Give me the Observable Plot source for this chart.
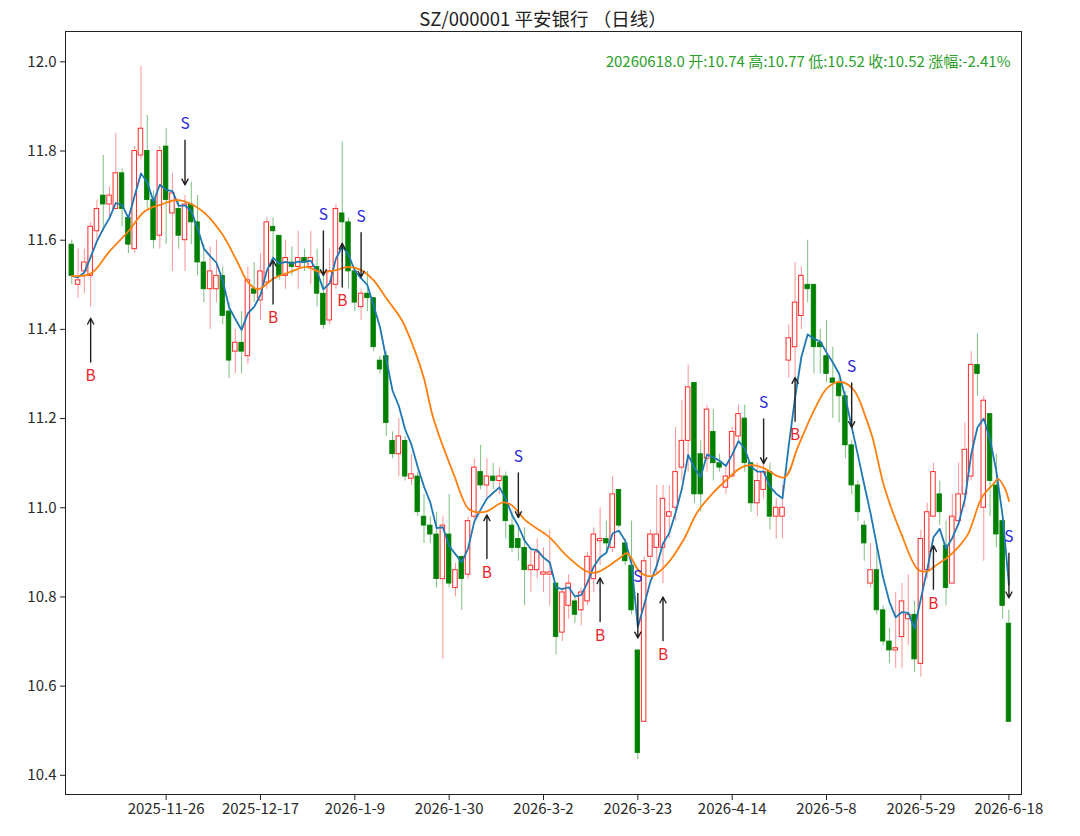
<!DOCTYPE html>
<html><head><meta charset="utf-8">
<script src="https://cdn.jsdelivr.net/npm/d3@7"></script>
<script src="https://cdn.jsdelivr.net/npm/@observablehq/plot@0.6"></script>
<style>
body{margin:0;background:#fff;font-family:"Noto Sans CJK SC","Noto Sans","DejaVu Sans",sans-serif;}
#title{height:27px;width:1080px;box-sizing:border-box;padding-left:65px;padding-right:59px;text-align:center;font-size:18.5px;line-height:36px;color:#222;white-space:nowrap;}
</style></head><body>
<div id="title"></div>
<div id="chart"></div>
<script>
const titleText = "SZ/000001 平安银行 （日线）";
const lastDateText = "20260618.0";

const tickIdx = [15, 30, 45, 60, 75, 90, 105, 120, 135, 149];
const tickLabels = ["2025-11-26","2025-12-17","2026-1-9","2026-1-30","2026-3-2","2026-3-23","2026-4-14","2026-5-8","2026-5-29","2026-6-18"];
const yTicks = [10.4, 10.6, 10.8, 11.0, 11.2, 11.4, 11.6, 11.8, 12.0];

const openP = [
11.59,11.50,11.53,11.52,11.62,11.70,11.68,11.67,11.75,11.65,
11.58,11.79,11.80,11.69,11.61,11.81,11.66,11.67,11.60,11.68,
11.64,11.55,11.49,11.49,11.52,11.44,11.35,11.37,11.34,11.49,
11.465,11.505,11.63,11.61,11.52,11.55,11.54,11.56,11.54,11.54,
11.48,11.42,11.50,11.66,11.64,11.53,11.45,11.48,11.47,11.33,
11.34,11.15,11.12,11.15,11.065,11.07,10.98,10.96,10.94,10.84,
10.94,10.82,10.89,10.85,10.98,11.08,11.05,11.07,11.06,11.07,
10.96,10.93,10.91,10.86,10.86,10.85,10.85,10.83,10.72,10.78,
10.79,10.77,10.79,10.84,10.925,10.93,10.91,11.04,10.92,10.87,
10.68,10.52,10.89,10.91,10.91,10.98,11.00,11.09,11.15,11.28,
11.12,11.11,11.17,11.10,11.045,11.07,11.16,11.20,11.10,11.01,
11.04,11.08,10.98,10.98,11.33,11.36,11.43,11.50,11.50,11.37,
11.34,11.29,11.28,11.25,11.14,11.05,10.96,10.83,10.86,10.77,
10.70,10.68,10.71,10.75,10.76,10.65,10.86,10.98,11.03,10.915,
10.83,10.97,11.03,11.07,11.32,11.00,11.21,11.05,10.97,10.74];

const highP = [
11.60,11.58,11.58,11.64,11.69,11.79,11.72,11.84,11.76,11.65,
11.81,11.99,11.88,11.71,11.81,11.85,11.75,11.69,11.70,11.73,
11.70,11.59,11.585,11.60,11.54,11.46,11.40,11.44,11.54,11.55,
11.57,11.65,11.65,11.61,11.60,11.585,11.62,11.58,11.62,11.58,
11.55,11.58,11.68,11.82,11.65,11.54,11.49,11.53,11.47,11.34,
11.35,11.17,11.20,11.16,11.12,11.08,11.03,10.98,10.99,10.98,
11.03,10.875,10.89,10.98,11.11,11.14,11.11,11.10,11.09,11.08,
10.99,10.955,10.955,10.91,10.93,10.91,10.95,10.83,10.82,10.85,
10.80,10.82,10.90,10.955,11.00,10.97,11.07,11.04,10.93,10.97,
10.68,10.89,10.95,11.05,11.05,11.05,11.18,11.24,11.32,11.28,
11.15,11.23,11.22,11.12,11.09,11.18,11.23,11.23,11.10,11.10,
11.16,11.10,11.02,11.05,11.41,11.55,11.54,11.60,11.50,11.40,
11.42,11.36,11.29,11.26,11.15,11.06,10.97,10.92,10.92,10.78,
10.73,10.81,10.83,10.85,10.79,10.95,11.01,11.10,11.06,10.97,
11.03,11.10,11.19,11.35,11.39,11.25,11.21,11.12,10.98,10.77];

const lowP = [
11.50,11.47,11.48,11.45,11.60,11.62,11.645,11.67,11.63,11.57,
11.57,11.78,11.67,11.58,11.58,11.59,11.53,11.58,11.53,11.59,
11.52,11.46,11.40,11.46,11.41,11.29,11.30,11.30,11.32,11.46,
11.42,11.49,11.56,11.51,11.49,11.52,11.49,11.53,11.50,11.45,
11.40,11.41,11.49,11.55,11.49,11.44,11.42,11.44,11.35,11.30,
11.16,11.11,11.07,11.06,11.05,10.98,10.92,10.92,10.82,10.66,
10.82,10.80,10.77,10.84,10.97,11.04,11.02,11.04,11.03,10.93,
10.90,10.88,10.78,10.81,10.84,10.81,10.78,10.67,10.70,10.75,
10.74,10.735,10.78,10.81,10.87,10.90,10.90,10.955,10.87,10.76,
10.435,10.52,10.85,10.85,10.83,10.93,10.97,11.06,11.08,11.01,
10.99,11.08,11.06,11.08,11.03,11.07,11.15,11.08,10.99,10.98,
11.02,10.95,10.93,10.93,11.29,11.29,11.40,11.46,11.30,11.30,
11.28,11.20,11.19,11.11,11.03,10.97,10.88,10.82,10.76,10.69,
10.65,10.64,10.64,10.69,10.63,10.62,10.84,10.98,10.96,10.78,
10.83,10.96,11.00,11.06,11.25,10.88,10.98,10.91,10.75,10.52];

const closeP = [
11.52,11.51,11.55,11.63,11.67,11.68,11.70,11.75,11.67,11.59,
11.80,11.85,11.69,11.60,11.80,11.69,11.705,11.61,11.68,11.64,
11.55,11.49,11.53,11.52,11.43,11.33,11.37,11.35,11.51,11.48,
11.53,11.64,11.62,11.52,11.56,11.54,11.56,11.55,11.56,11.48,
11.41,11.53,11.67,11.64,11.53,11.46,11.48,11.47,11.36,11.31,
11.19,11.12,11.16,11.07,11.075,10.99,10.96,10.94,10.84,10.96,
10.83,10.86,10.84,10.97,11.09,11.05,11.07,11.06,11.07,10.97,
10.91,10.91,10.86,10.87,10.90,10.855,10.855,10.71,10.81,10.83,
10.76,10.81,10.89,10.94,10.93,10.92,11.03,10.96,10.88,10.77,
10.45,10.88,10.94,10.94,11.02,10.99,11.08,11.15,11.27,11.03,
11.03,11.22,11.10,11.09,11.07,11.17,11.21,11.10,11.01,11.06,
11.08,10.98,11.00,11.00,11.38,11.46,11.52,11.49,11.36,11.36,
11.30,11.28,11.25,11.14,11.05,10.99,10.92,10.86,10.77,10.70,
10.68,10.685,10.79,10.76,10.66,10.93,10.99,11.08,10.99,10.82,
10.98,11.03,11.13,11.32,11.30,11.24,11.06,10.94,10.78,10.52];

// fast (blue) line: exponential moving average of the closes over this span
const fastSpan = 5;

// slow (orange) average line at these bar positions
const maIdx = [0,3,6,9,11.6,14.2,17,20.6,23.8,26.2,28,29.6,32.2,35,37.2,39.7,42,44,46,48,50,52.5,54.6,56,57.5,60.7,63.1,64.5,66,68.6,70,72.2,76,78.7,81.9,83.5,85,87.2,88.3,90.4,92.3,94.6,97.3,99.4,102,104.2,106.4,108,110,113.3,115.4,118,120.2,122.3,124.4,126.3,127.3,129.2,131.9,134.5,135.9,137.7,139.3,140.9,142.5,144.7,146.5,147.3,148.4,149];
const maVal = [11.52,11.525,11.575,11.62,11.665,11.68,11.69,11.667,11.616,11.555,11.506,11.49,11.515,11.53,11.54,11.528,11.533,11.54,11.533,11.51,11.47,11.42,11.35,11.29,11.2,11.076,10.997,10.99,10.992,11.012,11.005,10.971,10.933,10.892,10.857,10.855,10.866,10.888,10.898,10.855,10.847,10.873,10.929,10.989,11.034,11.064,11.09,11.096,11.089,11.068,11.135,11.218,11.27,11.282,11.263,11.2,11.158,11.046,10.941,10.862,10.857,10.874,10.889,10.911,10.941,11.023,11.053,11.064,11.042,11.015];

// buy / sell signals: bar index, type, arrow tip price
const sigIdx = [3,18,32,40,43,46,66,71,84,90,94,110,115,124,137,149];
const sigType = ["B","S","B","S","B","S","B","S","B","S","B","S","B","S","B","S"];
const sigTip = [11.425,11.724,11.555,11.521,11.593,11.517,10.984,10.978,10.843,10.708,10.80,11.099,11.292,11.18,10.915,10.798];

const RED = "#ff2a2a", GREEN = "#008000";

const candles = openP.map((o, i) => ({i, open: o, high: highP[i], low: lowP[i], close: closeP[i]}));
const up = d => d.close >= d.open;
const dn = d => d.close < d.open;
const maPts = maIdx.map((x, k) => ({x, y: maVal[k]}));
const signals = sigIdx.map((i, k) => ({i, type: sigType[k], tip: sigTip[k]}));

// map function used by Plot.mapY for the fast line
const emaMap = vals => {
  const a = 2 / (fastSpan + 1);
  const out = [];
  let e;
  for (const v of vals) { e = e === undefined ? v : e + a * (v - e); out.push(e); }
  return out;
};

const last = candles[candles.length - 1], prev = candles[candles.length - 2];
const pct = ((last.close - prev.close) / prev.close * 100).toFixed(2);
const infoText = `${lastDateText} 开:${last.open.toFixed(2)} 高:${last.high.toFixed(2)} 低:${last.low.toFixed(2)} 收:${last.close.toFixed(2)} 涨幅:${pct}%`;

document.getElementById("title").textContent = titleText;

const chart = Plot.plot({
  width: 1080, height: 809,
  marginTop: 4, marginBottom: 42, marginLeft: 65, marginRight: 59,
  style: {fontFamily: '"Noto Sans CJK SC","Noto Sans",sans-serif', fontSize: "15px", color: "#2a2a2a", background: "white"},
  x: {type: "linear", domain: [-1, 151], axis: null},
  y: {domain: [10.357, 12.068], axis: null},
  marks: [
    Plot.axisY({ticks: yTicks, tickFormat: d => d.toFixed(1), tickSize: 5, tickPadding: 4, fontSize: 15, label: null, stroke: "#222"}),
    Plot.axisX({ticks: tickIdx, tickFormat: d => tickLabels[tickIdx.indexOf(d)], tickSize: 6, tickPadding: 3, fontSize: 15, label: null, stroke: "#222"}),
    Plot.ruleX(candles, {filter: up, x: "i", y1: "low", y2: "high", stroke: RED, strokeOpacity: 0.5, strokeWidth: 1}),
    Plot.ruleX(candles, {filter: dn, x: "i", y1: "low", y2: "high", stroke: GREEN, strokeOpacity: 0.5, strokeWidth: 1}),
    Plot.rect(candles, {filter: up, x1: d => d.i - 0.36, x2: d => d.i + 0.36, y1: "open", y2: "close", fill: "white", stroke: RED, strokeWidth: 1}),
    Plot.rect(candles, {filter: dn, x1: d => d.i - 0.36, x2: d => d.i + 0.36, y1: "open", y2: "close", fill: GREEN, stroke: GREEN, strokeWidth: 0.8}),
    Plot.lineY(candles, Plot.mapY(emaMap, {x: "i", y: "close", stroke: "#1f77b4", strokeWidth: 1.8})),
    Plot.line(maPts, {x: "x", y: "y", stroke: "#ff7f0e", strokeWidth: 1.8, curve: "catmull-rom"}),
    Plot.arrow(signals, {x1: "i", x2: "i", y1: d => d.type === "B" ? d.tip - 0.098 : d.tip + 0.100, y2: "tip", stroke: "#222", strokeWidth: 1.4, headLength: 7, headAngle: 55}),
    Plot.text(signals, {x: "i", y: d => d.type === "B" ? d.tip - 0.13 : d.tip + 0.136, text: "type", fill: d => d.type === "B" ? "#e8262a" : "#2b2bd9", fontSize: 15.5}),
    Plot.text([infoText], {frameAnchor: "top-right", dx: -11, dy: 31, lineAnchor: "middle", textAnchor: "end", fill: "#2ca02c", fontSize: 15}),
    Plot.frame({stroke: "#222", strokeWidth: 1})
  ]
});
document.getElementById("chart").appendChild(chart);
</script></body></html>
